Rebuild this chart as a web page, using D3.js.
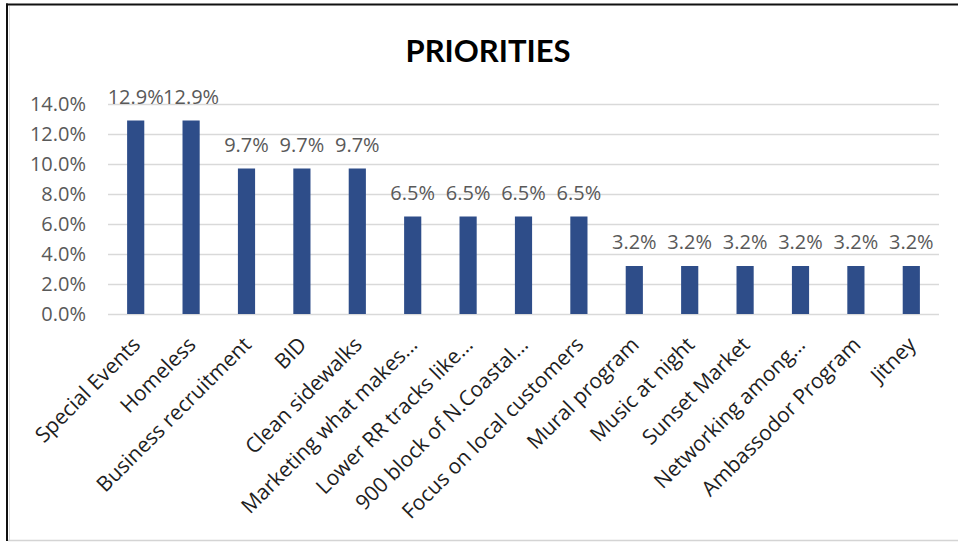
<!DOCTYPE html>
<html>
<head>
<meta charset="utf-8">
<script src="https://cdn.jsdelivr.net/npm/d3@7"></script>
<style>
  html, body { margin: 0; padding: 0; background: #fff; }
  svg { display: block; }
</style>
</head>
<body>
<svg id="chart" width="958" height="542"></svg>
<script>
// Priorities survey: share of responses per item
const categories = [
  "Special Events", "Homeless", "Business recruitment", "BID", "Clean sidewalks",
  "Marketing what makes...", "Lower RR tracks like...", "900 block of N.Coastal...",
  "Focus on local customers", "Mural program", "Music at night", "Sunset Market",
  "Networking among...", "Ambassodor Program", "Jitney"
];
const shares = [12.9, 12.9, 9.7, 9.7, 9.7, 6.5, 6.5, 6.5, 6.5, 3.2, 3.2, 3.2, 3.2, 3.2, 3.2];
const yTicks = [0, 2, 4, 6, 8, 10, 12, 14];
const chartTitle = "PRIORITIES";

const svg = d3.select("#chart");
const W = 958, H = 542;
const margin = { top: 104, right: 19, bottom: 228, left: 108 };
const titleFont = "Lato, 'Open Sans', sans-serif";
const font = "'Open Sans', Lato, sans-serif";

// frame
svg.append("rect").attr("x", 0).attr("y", 0).attr("width", W).attr("height", H).attr("fill", "#fff");
svg.append("line").attr("x1", 9.5).attr("x2", 9.5).attr("y1", 6).attr("y2", 540)
  .attr("stroke", "#dcdcdc").attr("stroke-width", 1);
svg.append("line").attr("x1", 7).attr("x2", 7).attr("y1", 3.5).attr("y2", 541)
  .attr("stroke", "#111").attr("stroke-width", 2);
svg.append("line").attr("x1", 6).attr("x2", W).attr("y1", 4.5).attr("y2", 4.5)
  .attr("stroke", "#111").attr("stroke-width", 2);
svg.append("line").attr("x1", 8).attr("x2", W).attr("y1", 540.5).attr("y2", 540.5)
  .attr("stroke", "#d4d4d4").attr("stroke-width", 1.5);

const x = d3.scaleBand()
  .domain(categories)
  .range([margin.left, W - margin.right])
  .paddingInner(0.69)
  .paddingOuter(0.345);

const y = d3.scaleLinear()
  .domain([0, 14])
  .range([H - margin.bottom, margin.top]);

// title
svg.append("text")
  .attr("x", 488).attr("y", 62)
  .attr("text-anchor", "middle")
  .attr("font-family", titleFont)
  .attr("font-weight", "bold")
  .attr("font-size", 31)
  .attr("fill", "#000")
  .text(chartTitle);

// y axis: gridlines and percentage labels
const yAxis = d3.axisLeft(y)
  .tickValues(yTicks)
  .tickSize(-(W - margin.right - margin.left))
  .tickPadding(22)
  .tickFormat(d => d.toFixed(1) + "%");

const gy = svg.append("g")
  .attr("transform", `translate(${margin.left},0)`)
  .call(yAxis);
gy.select(".domain").remove();
gy.selectAll(".tick line").attr("stroke", "#d9d9d9").attr("stroke-width", 1.5);
gy.selectAll(".tick text")
  .attr("font-family", font)
  .attr("font-size", 20)
  .attr("fill", "#595959");

// bars
svg.append("g").selectAll("rect")
  .data(shares)
  .join("rect")
  .attr("x", (d, i) => x(categories[i]))
  .attr("width", x.bandwidth())
  .attr("y", d => y(d))
  .attr("height", d => y(0) - y(d))
  .attr("fill", "#2e4d89");

// value labels
svg.append("g").selectAll("text")
  .data(shares)
  .join("text")
  .attr("x", (d, i) => x(categories[i]) + x.bandwidth() / 2)
  .attr("y", d => y(d) - 17)
  .attr("text-anchor", "middle")
  .attr("font-family", font)
  .attr("font-size", 20)
  .attr("fill", "#595959")
  .text(d => d.toFixed(1) + "%");

// category axis with rotated labels
const xAxis = d3.axisBottom(x).tickSize(0).tickPadding(0);
const gx = svg.append("g")
  .attr("transform", `translate(0,${y(0)})`)
  .call(xAxis);
gx.select(".domain").remove();
gx.selectAll(".tick text")
  .attr("font-family", font)
  .attr("font-size", 21)
  .attr("fill", "#1e1e1e")
  .attr("text-anchor", "end")
  .attr("dy", 0)
  .attr("transform", "translate(6,32) rotate(-45)");
</script>
</body>
</html>
